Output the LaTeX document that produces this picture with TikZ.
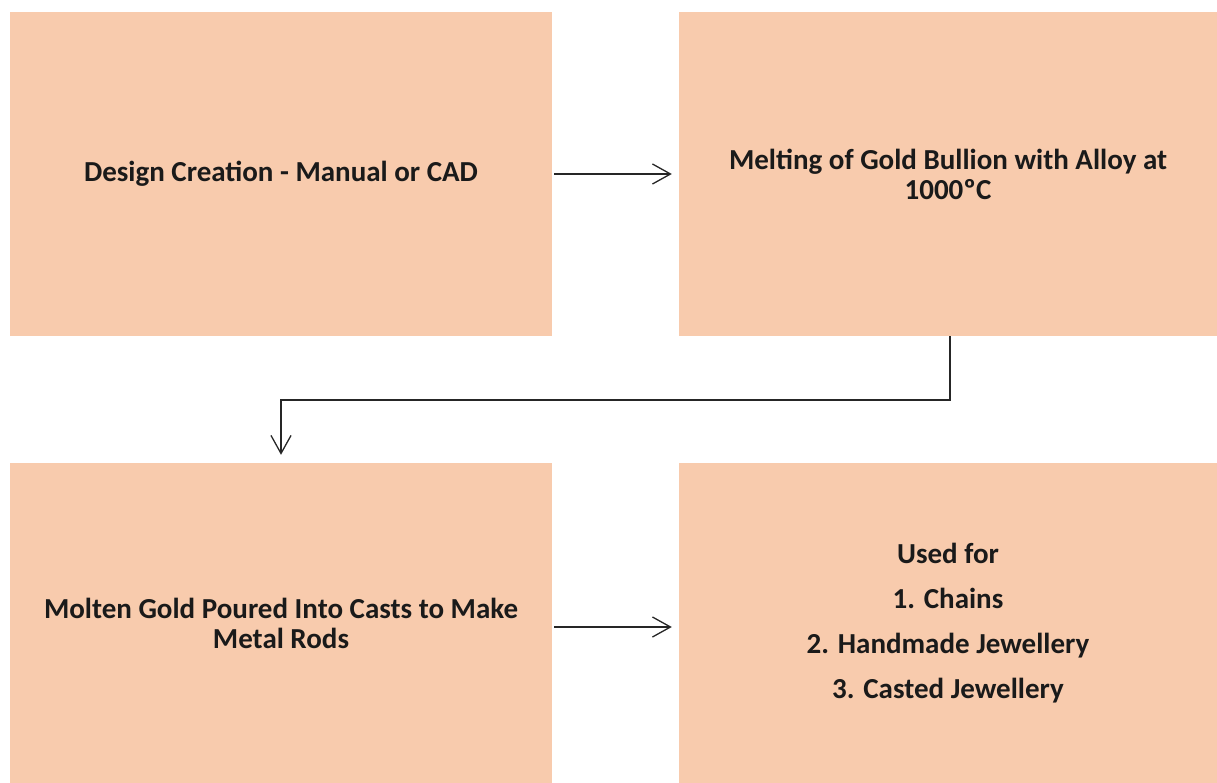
\documentclass[tikz,border=0pt]{standalone}
\usepackage{fontspec}
\setmainfont{Carlito}
\usetikzlibrary{arrows.meta}
\definecolor{peach}{HTML}{F8CBAD}
\definecolor{ink}{HTML}{1A1A1A}
\tikzset{
  stagebox/.style={fill=peach, draw=none, inner sep=0pt, align=center,
    minimum width=542pt, text=ink, font=\fontsize{29}{30}\selectfont\bfseries},
  flow/.style={draw=black!85, line width=1.3pt,
    -{Straight Barb[length=18pt,width=20pt,line width=1.3pt]}}
}
\begin{document}
\begin{tikzpicture}[x=1pt,y=-1pt]
  \useasboundingbox (0,0) rectangle (1217,783);
  % process stages
  \node[stagebox, minimum height=324pt] (design) at (281,174)
    {Design Creation - Manual or CAD};
  \node[stagebox, minimum width=538pt, minimum height=324pt] (melt) at (948,174)
    {Melting of Gold Bullion with Alloy at\\1000ºC};
  \node[stagebox, minimum height=320pt] (cast) at (281,623)
    {Molten Gold Poured Into Casts to Make\\Metal Rods};
  \node[stagebox, minimum width=538pt, minimum height=320pt] (use) at (948,623)
    {Used for\\[15pt]1. Chains\\[15pt]2. Handmade Jewellery\\[15pt]3. Casted Jewellery};
  % connectors
  \coordinate (turn) at (950,400);
  \draw[flow, shorten <=2pt, shorten >=7pt] (design.east) -- (melt.west);
  \draw[flow, shorten >=8pt] ([xshift=2pt]melt.south) -- (turn) -| (cast.north);
  \draw[flow, shorten <=2pt, shorten >=7pt] ([yshift=-4pt]cast.east) -- ([yshift=-4pt]use.west);
\end{tikzpicture}
\end{document}
